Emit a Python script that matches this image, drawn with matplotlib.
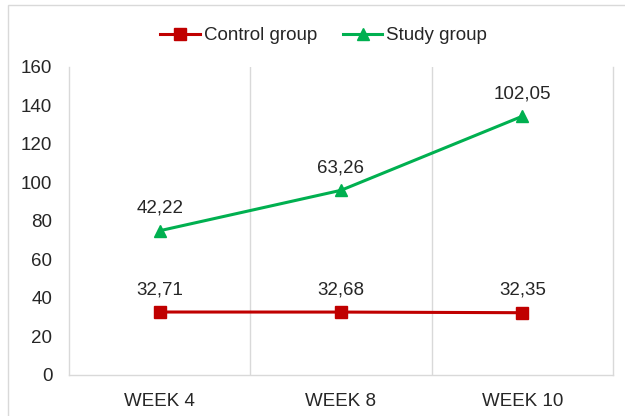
import matplotlib
matplotlib.use("Agg")
import matplotlib.pyplot as plt
import numpy as np

plt.rcParams['font.family'] = ['Liberation Sans', 'DejaVu Sans']

weeks = ["WEEK 4", "WEEK 8", "WEEK 10"]
control = [32.71, 32.68, 32.35]
study = [42.22, 63.26, 102.05]
y_ticks = [0, 20, 40, 60, 80, 100, 120, 140, 160]

RED = "#C00000"
GREEN = "#00B050"
GRID = "#D9D9D9"
TXT = "#262626"
FS = 13.5

fig = plt.figure(figsize=(6.25, 4.16), dpi=100)
ax = fig.add_axes([0.1104, 0.0986, 0.8704, 0.7404])

x = np.arange(len(weeks))
# stacked line: study series sits on top of control series
stacked = np.array(control) + np.array(study)

ax.plot(x, control, color=RED, lw=2.2, marker='s', ms=8.5, label="Control group", zorder=3)
ax.plot(x, stacked, color=GREEN, lw=2.2, marker='^', ms=9, label="Study group", zorder=3)

def fmt(v):
    return f"{v:.2f}".replace('.', ',')

for xi, v in zip(x, control):
    ax.annotate(fmt(v), (xi, v), xytext=(0, 10), textcoords='offset points',
                ha='center', va='bottom', fontsize=FS, color=TXT)
for xi, v, s in zip(x, study, stacked):
    ax.annotate(fmt(v), (xi, s), xytext=(0, 10), textcoords='offset points',
                ha='center', va='bottom', fontsize=FS, color=TXT)

ax.set_xlim(-0.5, 2.5)
ax.set_ylim(0, 160)
ax.set_yticks(y_ticks)
ax.set_xticks(x)
ax.set_xticklabels(weeks)
ax.tick_params(axis='both', length=0, labelsize=FS, labelcolor=TXT)
ax.tick_params(axis='y', pad=12)
ax.tick_params(axis='x', pad=13)

for b in [0.5, 1.5]:
    ax.axvline(b, color=GRID, lw=1, zorder=1)

for side in ['left', 'bottom', 'right']:
    ax.spines[side].set_color(GRID)
    ax.spines[side].set_linewidth(1)
ax.spines['top'].set_visible(False)

leg = fig.legend(loc='upper center', bbox_to_anchor=(0.518, 0.975), ncol=2, frameon=False,
                 fontsize=FS, handlelength=2.1, handletextpad=0.2, columnspacing=1.4)
for t in leg.get_texts():
    t.set_color(TXT)

# outer chart border
fig.patches.append(plt.Rectangle((8 / 625, -0.02), 1.0, 1 - 5 / 416 + 0.02,
                                 transform=fig.transFigure, fill=False,
                                 edgecolor=GRID, lw=1))

fig.savefig("out.png", dpi=100)
